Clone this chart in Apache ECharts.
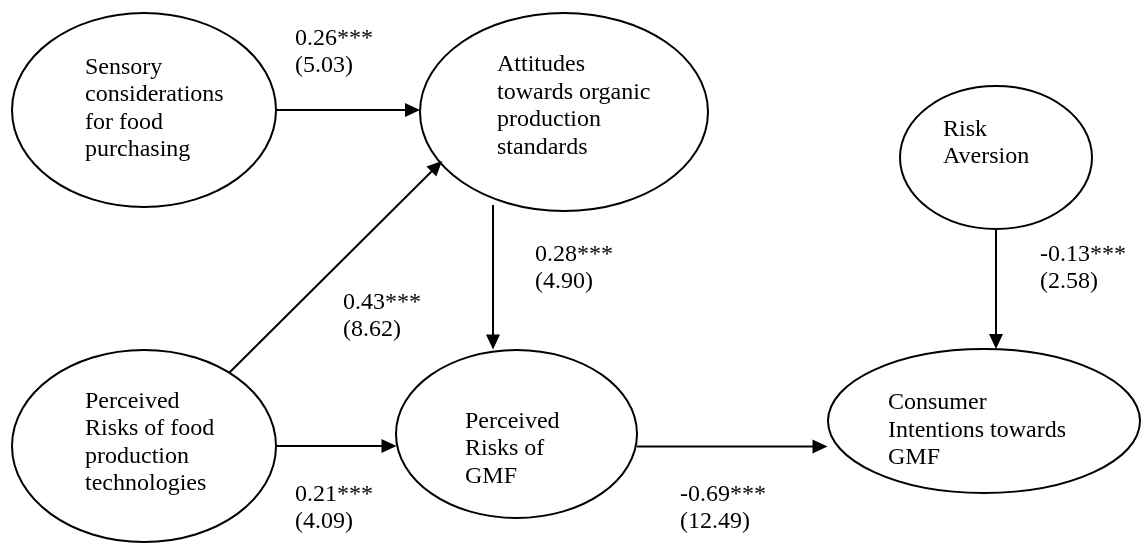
<!DOCTYPE html>
<html>
<head>
<meta charset="utf-8">
<title>Structural model of consumer intentions towards GMF</title>
<script src="https://cdn.jsdelivr.net/npm/echarts@6/dist/echarts.min.js"></script>
<style>
  html, body { margin: 0; padding: 0; background: #fff; }
  #chart { width: 1143px; height: 545px; }
</style>
</head>
<body>
<div id="chart"></div>
<script>
// Latent constructs of the model, one entry per ellipse (text broken into lines)
const constructs = [
  ['Sensory', 'considerations', 'for food', 'purchasing'],
  ['Attitudes', 'towards organic', 'production', 'standards'],
  ['Risk', 'Aversion'],
  ['Perceived', 'Risks of food', 'production', 'technologies'],
  ['Perceived', 'Risks of', 'GMF'],
  ['Consumer', 'Intentions towards', 'GMF']
];

// Structural paths: source construct, target construct, standardised coefficient, t-value
const pathFrom = [0, 3, 1, 3, 4, 2];
const pathTo = [1, 1, 4, 4, 5, 5];
const coefficients = [0.26, 0.43, 0.28, 0.21, -0.69, -0.13];
const tValues = ['5.03', '8.62', '4.90', '4.09', '12.49', '2.58'];
const significance = ['***', '***', '***', '***', '***', '***'];

// Diagram layout (canvas units): ellipse centre, radii, text anchor
const nodeLayout = [
  // cx, cy, rx, ry, textX, firstBaseline
  [144, 110, 132, 97, 85, 74.5],
  [564, 112, 144, 99, 497, 72],
  [996, 157.5, 96, 71.5, 943, 136.5],
  [144, 446, 132, 96, 85, 408.5],
  [516.5, 434, 120.5, 84, 465, 428.5],
  [984, 421, 156, 72, 888, 410]
];
// Arrow start, arrow tip, label anchor
const pathLayout = [
  // x1, y1, x2, y2, labelX, firstBaseline
  [276, 110, 420, 110, 295, 45.5],
  [229.5, 372.5, 442, 161, 343, 309.5],
  [493, 205, 493, 349.5, 535, 261.5],
  [276, 446, 396.5, 446, 295, 501.5],
  [637, 446.5, 827.5, 446.5, 680, 501.5],
  [996, 229, 996, 349, 1040, 261.5]
];

const FONT_SIZE = 24;
const LINE_GAP = 27.5;
const FONT = FONT_SIZE + 'px "Liberation Serif", "Times New Roman", serif';

function pathLabel(i) {
  return [coefficients[i].toFixed(2) + significance[i], '(' + tValues[i] + ')'];
}

// Text lines placed from the first baseline downwards
function textLines(api, lines, x, baseline) {
  return lines.map(function (line, k) {
    const p = api.coord([x, baseline + k * LINE_GAP]);
    return {
      type: 'text',
      x: p[0],
      y: p[1] - FONT_SIZE * 0.3,
      style: {
        text: line,
        font: FONT,
        fill: '#000',
        align: 'left',
        verticalAlign: 'middle'
      }
    };
  });
}

const chart = echarts.init(document.getElementById('chart'), null, { renderer: 'canvas' });

chart.setOption({
  backgroundColor: '#ffffff',
  animation: false,
  grid: { left: 0, right: 0, top: 0, bottom: 0 },
  xAxis: { type: 'value', min: 0, max: 1143, show: false },
  yAxis: { type: 'value', min: 0, max: 545, inverse: true, show: false },
  series: [
    {
      // construct ellipses with their names
      type: 'custom',
      coordinateSystem: 'cartesian2d',
      z: 2,
      data: nodeLayout.map(function (r, i) { return r.concat([i]); }),
      renderItem: function (params, api) {
        const c = api.coord([api.value(0), api.value(1)]);
        const s = api.size([api.value(2), api.value(3)]);
        const idx = api.value(6);
        return {
          type: 'group',
          children: [{
            type: 'ellipse',
            shape: { cx: c[0], cy: c[1], rx: s[0], ry: s[1] },
            style: { fill: 'rgba(255,255,255,0)', stroke: '#000', lineWidth: 2 }
          }].concat(textLines(api, constructs[idx], api.value(4), api.value(5)))
        };
      }
    },
    {
      // path arrows with coefficient and t-value labels
      type: 'custom',
      coordinateSystem: 'cartesian2d',
      z: 3,
      data: pathLayout.map(function (r, i) { return r.concat([pathFrom[i], pathTo[i], i]); }),
      renderItem: function (params, api) {
        const a = api.coord([api.value(0), api.value(1)]);
        const b = api.coord([api.value(2), api.value(3)]);
        const idx = api.value(8);
        const dx = b[0] - a[0], dy = b[1] - a[1];
        const len = Math.sqrt(dx * dx + dy * dy);
        const ux = dx / len, uy = dy / len;
        const headLen = 15, headHalf = 7;
        const bx = b[0] - ux * headLen, by = b[1] - uy * headLen;
        return {
          type: 'group',
          children: [
            {
              type: 'line',
              shape: { x1: a[0], y1: a[1], x2: bx + ux * 2, y2: by + uy * 2 },
              style: { stroke: '#000', lineWidth: 2 }
            },
            {
              type: 'polygon',
              shape: { points: [
                [b[0], b[1]],
                [bx - uy * headHalf, by + ux * headHalf],
                [bx + uy * headHalf, by - ux * headHalf]
              ] },
              style: { fill: '#000' }
            }
          ].concat(textLines(api, pathLabel(idx), api.value(4), api.value(5)))
        };
      }
    }
  ]
});
</script>
</body>
</html>
